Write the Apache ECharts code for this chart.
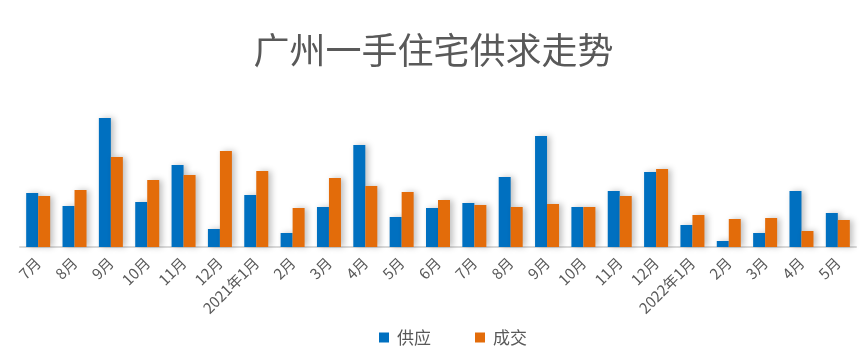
<!DOCTYPE html>
<html>
<head>
<meta charset="utf-8">
<script src="https://cdn.jsdelivr.net/npm/echarts@6/dist/echarts.min.js"></script>
<style>
html,body{margin:0;padding:0;background:#fff;}
#chart{width:867px;height:362px;}
</style>
</head>
<body>
<div id="chart"></div>
<script>
var categories = ['7月','8月','9月','10月','11月','12月','2021年1月','2月','3月','4月','5月','6月','7月','8月','9月','10月','11月','12月','2022年1月','2月','3月','4月','5月'];
var supply = [54, 41, 129, 45, 82, 18, 52, 14, 40, 102, 30, 39, 44, 70, 111, 40, 56, 75, 22, 6, 14, 56, 34];
var deal = [51, 57, 90, 67, 72, 96, 76, 39, 69, 61, 55, 47, 42, 40, 43, 40, 51, 78, 32, 28, 29, 16, 27];
var seriesNames = ['供应', '成交'];
var titleText = '广州一手住宅供求走势';

var font = '"Microsoft YaHei","Noto Sans CJK SC",sans-serif';
var chart = echarts.init(document.getElementById('chart'), null, {renderer: 'canvas'});
var shadow = {shadowBlur: 6, shadowColor: 'rgba(0,0,0,0.25)', shadowOffsetX: 3, shadowOffsetY: 0};
chart.setOption({
  animation: false,
  title: {
    text: titleText,
    left: 'center',
    top: 27,
    textStyle: {fontSize: 36, fontWeight: 'normal', color: '#595959', fontFamily: font}
  },
  legend: {
    bottom: 11,
    left: 374,
    itemWidth: 10,
    itemHeight: 10,
    itemGap: 44,
    icon: 'rect',
    textStyle: {fontSize: 17, color: '#595959', fontFamily: font, padding: [0, 0, 0, 3]},
    data: seriesNames
  },
  grid: {left: 20, right: 11, top: 107, bottom: 115, containLabel: false},
  xAxis: {
    type: 'category',
    data: categories,
    axisLine: {lineStyle: {color: '#d9d9d9', width: 2}},
    axisTick: {show: false},
    axisLabel: {rotate: 45, interval: 0, fontSize: 15, color: '#595959', fontFamily: font, margin: 13}
  },
  yAxis: {
    type: 'value',
    min: 0,
    max: 140,
    show: false,
    splitLine: {show: false}
  },
  series: [
    {name: seriesNames[0], type: 'bar', data: supply, barWidth: 12, barGap: '0%',
     itemStyle: Object.assign({color: '#0070C0'}, shadow)},
    {name: seriesNames[1], type: 'bar', data: deal, barWidth: 12, barGap: '0%',
     itemStyle: Object.assign({color: '#E36C0A'}, shadow)}
  ]
});
</script>
</body>
</html>
